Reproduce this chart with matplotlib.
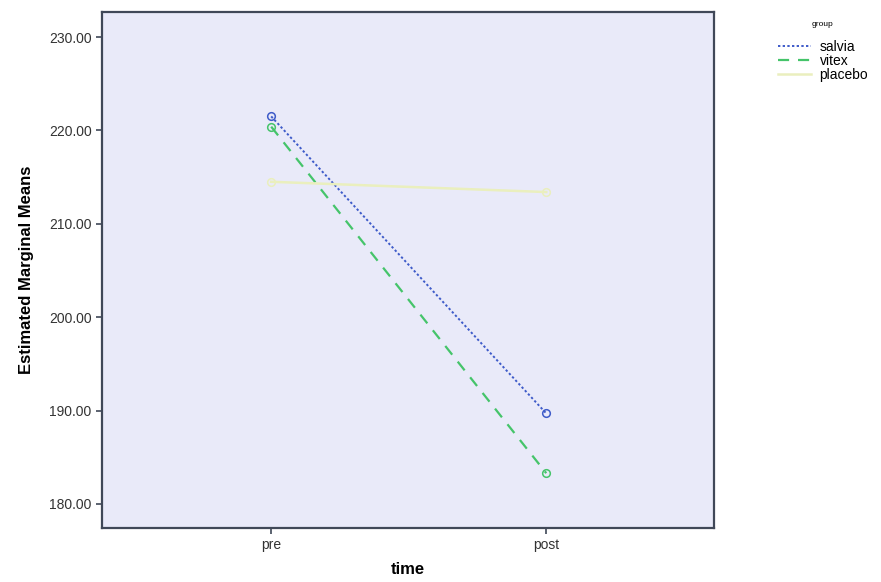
import matplotlib
matplotlib.use("Agg")
from matplotlib import pyplot as plt
import numpy as np

font = {'family': 'Liberation Sans', 'size': 10}
matplotlib.rc('font', **font)

# data
times = ["pre", "post"]
salvia = [221.5, 189.7]
vitex = [220.4, 183.3]
placebo = [214.5, 213.4]
y_ticks = [180, 190, 200, 210, 220, 230]

fig = plt.figure(figsize=(8.81, 5.82), dpi=100)
ax = fig.add_axes([0.1158, 0.0928, 0.6947, 0.8866])
ax.set_facecolor('#E9EAF9')

x = np.arange(len(times))
ax.plot(x, salvia, ls=(0, (1.2, 1.2)), color='#3E5BC9', lw=1.4,
        marker='o', mfc='none', ms=5.5, mew=1.1, label='salvia')
ax.plot(x, vitex, ls=(0, (5, 4)), color='#45C46A', lw=1.6,
        marker='o', mfc='none', ms=5.5, mew=1.1, label='vitex')
ax.plot(x, placebo, ls='-', color='#EAEFBE', lw=1.8,
        marker='o', mfc='none', ms=5.5, mew=1.1, label='placebo')

ax.set_xlim(-0.615, 1.61)
ax.set_ylim(177.43, 232.68)
ax.set_xticks(x)
ax.set_xticklabels(times, fontsize=10, color='#333333')
ax.set_yticks(y_ticks)
ax.set_yticklabels([f'{v:.2f}' for v in y_ticks], fontsize=10, color='#333333')
ax.tick_params(direction='out', length=4, width=1.2, color='#404858')

for s in ax.spines.values():
    s.set_color('#404858')
    s.set_linewidth(1.6)

ax.set_ylabel('Estimated Marginal Means', fontsize=12, fontweight='bold', labelpad=11)
ax.set_xlabel('time', fontsize=12, fontweight='bold', labelpad=7)

leg = fig.legend(loc='upper left', bbox_to_anchor=(0.875, 0.975), frameon=False,
                 title='group', title_fontsize=6, fontsize=10,
                 handlelength=2.4, handletextpad=0.6, labelspacing=0.02,
                 borderpad=0)
leg._legend_box.sep = 8
for h in leg.legend_handles:
    h.set_marker('')

plt.savefig('out.png', dpi=100)
